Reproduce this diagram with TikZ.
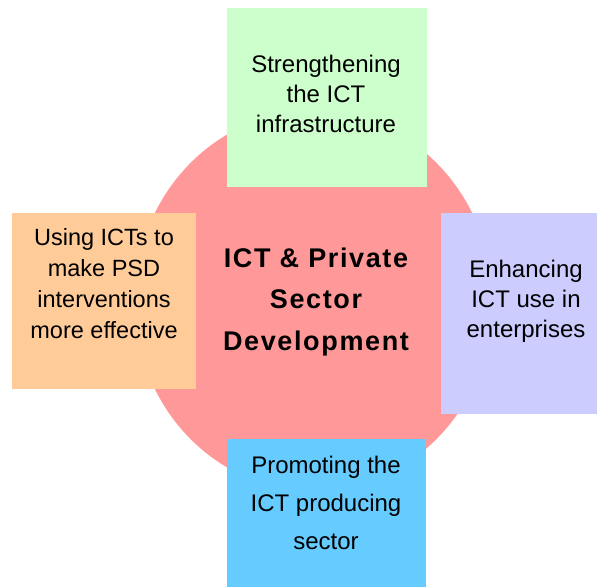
\documentclass[tikz,border=0pt]{standalone}
\usepackage{fontspec}
\setmainfont{Liberation Sans}
\newfontfamily\hubfont[LetterSpace=6]{Liberation Sans}
\usetikzlibrary{shapes.geometric}
\definecolor{hubpink}{HTML}{FF9999}
\definecolor{boxgreen}{HTML}{CCFFCC}
\definecolor{boxorange}{HTML}{FFCC99}
\definecolor{boxlav}{HTML}{CCCCFF}
\definecolor{boxblue}{HTML}{66CCFF}
\tikzset{
  panel/.style={rectangle, inner sep=0pt, outer sep=0pt, draw=none},
  paneltext/.style={align=center, anchor=base, inner sep=0pt, font=\fontsize{24bp}{30bp}\selectfont},
  hubtext/.style={align=center, anchor=base, inner sep=0pt, font=\hubfont\bfseries\fontsize{27bp}{41.5bp}\selectfont}
}
\begin{document}
\begin{tikzpicture}[x=1bp,y=-1bp]
\useasboundingbox (0,0) rectangle (597,587);
\fill[white] (0,0) rectangle (597,587);
% central ellipse
\node[ellipse, fill=hubpink, draw=none, inner sep=0pt, minimum width=358bp, minimum height=380bp] (hub) at (313.5,301) {};
% panels
\node[panel, fill=boxgreen, minimum width=200bp, minimum height=179bp] (ptop) at (327,97.5) {};
\node[panel, fill=boxorange, minimum width=184bp, minimum height=176bp] (pleft) at (104,301) {};
\node[panel, fill=boxlav, minimum width=156bp, minimum height=201bp] (pright) at (519,313.5) {};
\node[panel, fill=boxblue, minimum width=199bp, minimum height=148bp] (pbottom) at (326.5,513) {};
% texts (anchor base = baseline of the last line)
\node[hubtext] (hubt) at (316,350) {ICT \& Private\\Sector\\Development};
\node[paneltext] (ttop) at (326,133) {Strengthening\\the ICT\\infrastructure};
\node[paneltext, font=\fontsize{23.5bp}{30.7bp}\selectfont] (tleft) at (104,338) {Using ICTs to\\make PSD\\interventions\\more effective};
\node[paneltext] (tright) at (526,337) {Enhancing\\ICT use in\\enterprises};
\node[paneltext, font=\fontsize{24bp}{38bp}\selectfont] (tbottom) at (326,549) {Promoting the\\ICT producing\\sector};
\end{tikzpicture}
\end{document}
